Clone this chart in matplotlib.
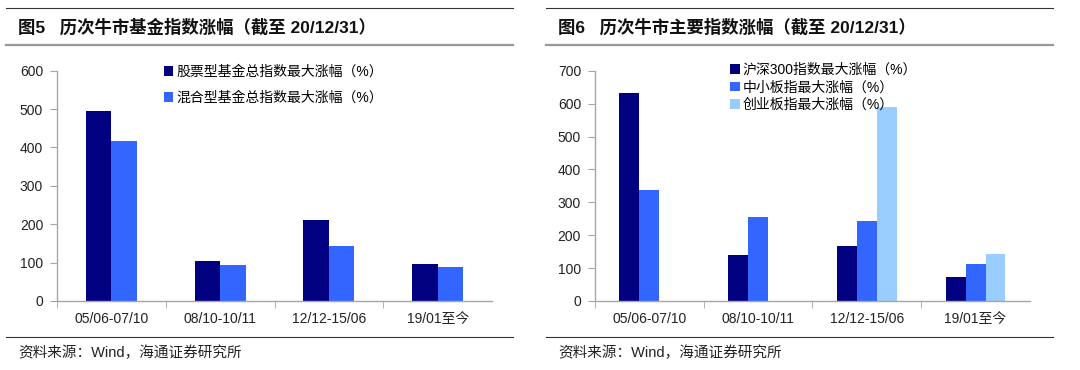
import numpy as np
import matplotlib.pyplot as plt
from matplotlib.lines import Line2D

plt.rcParams['font.family'] = ['Liberation Sans', 'Noto Sans CJK SC']

periods = ["05/06-07/10", "08/10-10/11", "12/12-15/06", "19/01至今"]

# 图5
stock_fund = [496, 103, 212, 97]
mixed_fund = [418, 93, 142, 88]
fund_labels = ["股票型基金总指数最大涨幅（%）", "混合型基金总指数最大涨幅（%）"]

# 图6
hs300 = [631, 139, 166, 72]
sme = [336, 256, 242, 113]
chinext = [np.nan, np.nan, 591, 144]
index_labels = ["沪深300指数最大涨幅（%）", "中小板指最大涨幅（%）", "创业板指最大涨幅（%）"]

title_left = "图5   历次牛市基金指数涨幅（截至 20/12/31）"
title_right = "图6   历次牛市主要指数涨幅（截至 20/12/31）"
source = "资料来源：Wind，海通证券研究所"

navy = "#000080"
blue = "#3366ff"
light = "#99ccff"
axis_gray = "#a6a6a6"


def style_axis(ax, ymax):
    ax.set_xlim(-0.5, 3.5)
    ax.set_ylim(0, ymax)
    ax.set_yticks(np.arange(0, ymax + 1, 100))
    ax.set_xticks(np.arange(4))
    ax.set_xticklabels(periods)
    ax.set_xticks([-0.5, 0.5, 1.5, 2.5], minor=True)
    for s in ["top", "right"]:
        ax.spines[s].set_visible(False)
    for s in ["left", "bottom"]:
        ax.spines[s].set_color(axis_gray)
        ax.spines[s].set_linewidth(1.0)
    ax.tick_params(axis="x", which="major", length=0, pad=8, labelsize=10, colors="#222222")
    ax.tick_params(axis="x", which="minor", length=5, color=axis_gray, direction="out")
    ax.tick_params(axis="y", length=5, color=axis_gray, pad=5, labelsize=10, labelcolor="#222222")


def frame(fig, x0, x1, title):
    fig.add_artist(Line2D([x0, x1], [0.9784, 0.9784], color="#333333", lw=0.8))
    fig.add_artist(Line2D([x0, x1], [0.8797, 0.8797], color="#999999", lw=1.6))
    fig.add_artist(Line2D([x0, x1], [0.0892, 0.0892], color="#333333", lw=0.8))
    fig.text(x0 + 0.011, 0.927, title, fontsize=12.5, fontweight="bold", va="center", color="#111111")
    fig.text(x0 + 0.011, 0.046, source, fontsize=10.5, va="center", color="#222222")


fig = plt.figure(figsize=(10.8, 3.7), dpi=100)

frame(fig, 6 / 1080, 513 / 1080, title_left)
frame(fig, 546 / 1080, 1053 / 1080, title_right)

# left chart
ax1 = fig.add_axes([0.0528, 0.1865, 0.4028, 0.6224])
x = np.arange(len(periods))
w = 0.235
ax1.bar(x - w / 2, stock_fund, w, color=navy, label=fund_labels[0])
ax1.bar(x + w / 2, mixed_fund, w, color=blue, label=fund_labels[1])
style_axis(ax1, 600)
ax1.legend(loc="upper left", bbox_to_anchor=(0.245, 1.025), frameon=False, fontsize=10,
           handlelength=0.7, handleheight=0.7, handletextpad=0.2, labelspacing=0.85,
           borderpad=0, borderaxespad=0)

# right chart
ax2 = fig.add_axes([0.5509, 0.1865, 0.4028, 0.6224])
w2 = 0.183
ax2.bar(x - w2, hs300, w2, color=navy, label=index_labels[0])
ax2.bar(x, sme, w2, color=blue, label=index_labels[1])
ax2.bar(x + w2, chinext, w2, color=light, label=index_labels[2])
style_axis(ax2, 700)
ax2.legend(loc="upper left", bbox_to_anchor=(0.31, 1.035), frameon=False, fontsize=10,
           handlelength=0.7, handleheight=0.7, handletextpad=0.2, labelspacing=0.27,
           borderpad=0, borderaxespad=0)

plt.savefig("out.png", dpi=100)
